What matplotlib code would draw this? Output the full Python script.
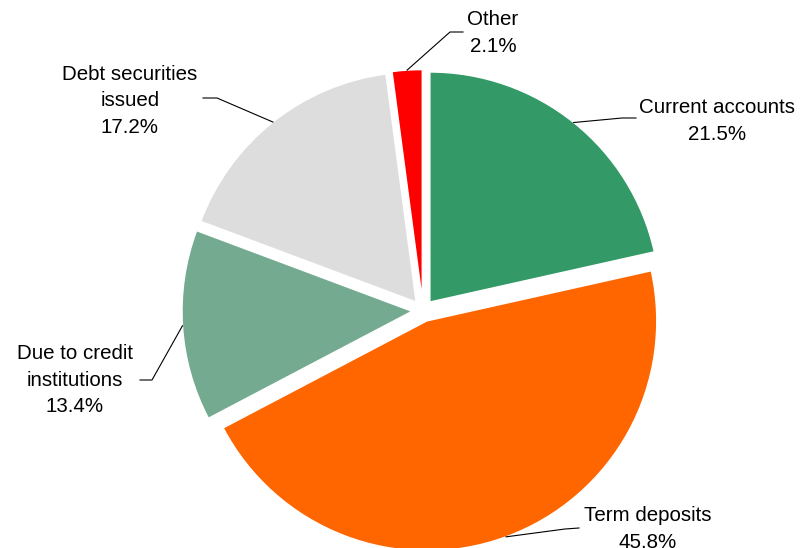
import matplotlib.pyplot as plt
import numpy as np

plt.rcParams['font.family'] = ['Liberation Sans', 'DejaVu Sans']

# data
labels = ["Current accounts", "Term deposits", "Due to credit\ninstitutions",
          "Debt securities\nissued", "Other"]
shares = [21.5, 45.8, 13.4, 17.2, 2.1]
colors = ["#339966", "#ff6600", "#74aa90", "#dddddd", "#ff0000"]

# layout in pixels (y measured from top of the image)
W, H = 803, 548
center_px = (423, 310.6)
radius = 230
offset = 11
# elbow of leader line, end of leader line, centre of label text
elbows = [(622, 118), (565, 529), (152, 380), (217, 98), (450, 32)]
ends = [(636, 118), (579, 528), (140, 380), (203, 98), (463, 32)]
text_pos = [(717, 121), (648, 529), (75, 380), (130, 101), (493, 33)]

fig = plt.figure(figsize=(W / 100, H / 100), dpi=100)
ax = fig.add_axes([0, 0, 1, 1])

wedges, _ = ax.pie(shares, colors=colors, startangle=90, counterclock=False,
                   center=(center_px[0], H - center_px[1]), radius=radius,
                   explode=[offset] * len(shares),
                   wedgeprops=dict(edgecolor="white", linewidth=1))
ax.set_xlim(0, W)
ax.set_ylim(0, H)
ax.set_aspect("equal")
ax.axis("off")

for w, lab, val, (ex, ey), (nx, ny), (tx, ty) in zip(wedges, labels, shares, elbows, ends, text_pos):
    # leader starts on the outer edge at the middle of the wedge
    ang = np.deg2rad((w.theta1 + w.theta2) / 2)
    cx, cy = w.center
    sx = cx + w.r * np.cos(ang)
    sy = cy + w.r * np.sin(ang)
    ax.plot([sx, ex, nx], [sy, H - ey, H - ny], color="black", lw=0.8,
            solid_joinstyle="miter")
    ax.text(tx, H - ty, f"{lab}\n{val:.1f}%", ha="center", va="center",
            multialignment="center", fontsize=14.8, linespacing=1.5,
            color="black")

fig.savefig("out.png", dpi=100)
